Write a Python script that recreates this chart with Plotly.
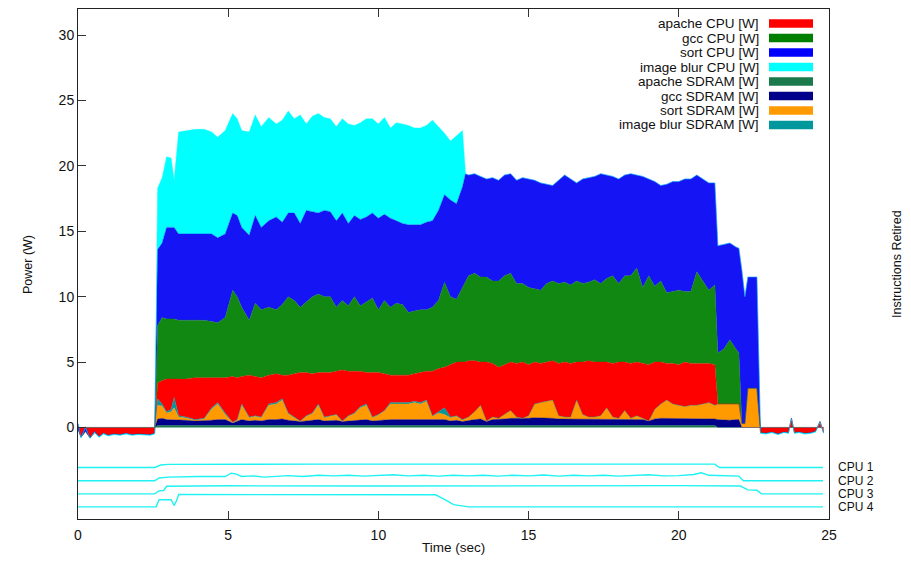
import plotly.graph_objects as go

# ---------------- data ----------------
time = ([0.0, 0.1, 0.25, 0.4, 0.55, 0.7, 0.85, 1.0, 1.2, 1.4, 1.6, 1.8, 2.0, 2.2, 2.4, 2.55]
        + [2.65, 2.8, 2.95, 3.1, 3.2, 3.35, 3.6, 3.9, 4.2, 4.45, 4.65, 4.9, 5.15, 5.3, 5.45, 5.7, 5.9,
           6.1, 6.35, 6.6, 6.8, 7.0, 7.2, 7.4, 7.6, 7.8, 8.0, 8.2, 8.4, 8.6, 8.8, 9.0, 9.2, 9.4, 9.6,
           9.8, 10.0, 10.2, 10.4, 10.6, 10.8, 11.0, 11.2, 11.4, 11.6, 11.8, 12.0, 12.2, 12.4, 12.6, 12.8]
        + [12.9, 13.0, 13.2, 13.4, 13.6, 13.8, 14.0, 14.2, 14.4, 14.6, 14.8, 15.0, 15.2, 15.4, 15.6,
           15.8, 16.0, 16.2, 16.4, 16.6, 16.8, 17.0, 17.2, 17.4, 17.6, 17.8, 18.0, 18.2, 18.4, 18.6,
           18.8, 19.0, 19.2, 19.4, 19.6, 19.8, 20.0, 20.2, 20.4, 20.6, 20.8, 21.0, 21.2]
        + [21.3, 21.5, 21.7, 21.9, 22.0, 22.1, 22.2, 22.3, 22.45, 22.6]
        + [22.72, 22.9, 23.1, 23.3, 23.5, 23.65, 23.75, 23.85, 24.0, 24.2, 24.4, 24.55, 24.7, 24.82])

apache_sdram = [0.0] * 16 + [0.15] * 51 + [0.15] * 43 + [0.0] * 10 + [0.0] * 14

gcc_sdram = ([0.0] * 16
             + [.5, .55, .45, .45, .45, .45, .4, .35, .35, .4, .45, .45, .2, .3, .45, .35, .4, .35, .45, .45,
                .5, .4, .35, .3, .35, .4, .45, .35, .4, .4, .3, .35, .4, .45, .45, .35, .4, .4, .45, .45,
                .45, .45, .45, .45, .45, .4, .45, .45, .35, .4, .3]
             + [.35, .4, .45, .5, .3, .45, .45, .5, .55, .55, .5, .55, .6, .6, .55, .55, .5, .5, .45, .5,
                .5, .45, .5, .5, .5, .45, .45, .5, .45, .5, .45, .35, .5, .55, .55, .5, .5, .5, .5, .55,
                .55, .55, .5]
             + [.6, .55, .55, .6, .6, 0, 0, 0, 0, 0]
             + [0.0] * 14)

sort_sdram = ([0.0] * 16
              + [1.05, .95, .5, .6, .9, .2, .17, .05, .15, .87, 1.2, .4, .02, .1, 1.1, .25, .3, .25, 1.1, 1.2,
                 1.45, .5, .25, 0, .35, .5, 1.1, .25, .3, .4, 0, .35, .5, .9, 1.1, .25, .4, .7, 1.2, 1.2,
                 1.2, 1.2, 1.3, 1.2, 1.4, .3, .5, .4, .25, .3, .1]
              + [.2, .25, .6, 1.05, .05, .2, .1, .35, .6, .1, .05, .2, 1.05, 1.15, 1.3, 1.4, .25, .15, .2, 1.45,
                 .35, .2, .15, .25, .85, .2, .1, .65, .1, .25, .1, 0, .75, 1.1, 1.4, 1.15, 1.05, .95, 1.05, 1.0,
                 1.1, 1.2, 1.05]
              + [1.2, 1.25, 1.25, 1.2, 1.2, .3, .3, 3.0, 3.0, 3.0]
              + [0.0] * 14)

blur_sdram = ([0.0] * 16
              + [.5, .15, .1, .2, .8, .1, .08, .05, .05, .08, .1, .1, .03, .05, .1, .05, .05, .05, .1, .1,
                 .1, .05, .05, .05, .05, .05, .1, .05, .05, .05, .05, .05, .05, .1, .1, .05, .05, .05, .1, .1,
                 .1, .1, .1, .1, .1, .05, .1, .5, .05, .05, .05]
              + [0.0] * 43 + [0.0] * 10 + [0.0] * 14)

apache_cpu = ([-0.15, -0.75, -0.3, -0.8, -0.4, -0.7, -0.45, -0.6, -0.5, -0.55, -0.45, -0.55, -0.5, -0.5, -0.55, -0.45]
              + [1.2, 1.8, 2.5, 2.3, 1.4, 2.8, 2.9, 3.2, 3.1, 2.3, 1.9, 2.7, 3.5, 3.2, 2.1, 3.2, 3.0, 3.0, 2.2, 2.2,
                 1.8, 2.9, 3.3, 3.7, 3.3, 3.0, 2.4, 3.4, 3.3, 3.3, 3.9, 3.4, 3.2, 2.7, 2.4, 3.4, 3.2, 2.8, 2.1, 2.1,
                 2.1, 2.1, 2.1, 2.3, 2.2, 3.4, 3.3, 3.1, 4.0, 4.1, 4.4]
              + [4.3, 4.3, 3.9, 3.3, 4.5, 4.1, 3.9, 3.8, 3.7, 4.1, 4.3, 3.9, 3.2, 3.0, 3.0, 3.0, 4.0, 4.2, 4.1, 2.9,
                 4.0, 4.3, 4.2, 4.1, 3.5, 4.1, 4.3, 3.7, 4.2, 4.1, 4.2, 4.3, 3.6, 3.2, 2.8, 3.1, 3.1, 3.4, 3.2, 3.2,
                 3.1, 3.0, 3.1]
              + [0.0] * 10
              + [-0.4, -0.45, -0.35, -0.5, -0.35, -0.4, 0.7, -0.4, -0.35, -0.45, -0.4, -0.3, 0.45, -0.4])

gcc_cpu = ([0.0] * 16
           + [4.4, 4.8, 4.6, 4.6, 4.6, 4.5, 4.5, 4.4, 4.4, 4.3, 4.2, 4.6, 6.6, 6.2, 5.3, 4.2, 5.6, 5.2, 5.2, 4.9,
              5.4, 6.0, 5.6, 5.0, 5.4, 5.9, 6.0, 5.8, 5.8, 4.9, 5.3, 5.0, 5.7, 5.0, 5.4, 5.7, 4.8, 5.6, 5.2, 5.5,
              5.4, 4.8, 4.8, 4.8, 4.7, 4.9, 5.2, 6.5, 5.2, 4.8, 5.7]
           + [6.2, 6.5, 6.7, 6.5, 6.5, 6.3, 6.6, 6.8, 6.8, 6.1, 6.0, 5.9, 5.6, 5.6, 6.0, 6.1, 6.1, 6.1, 6.0, 6.2,
              6.0, 6.0, 6.3, 6.0, 6.4, 6.7, 6.0, 6.6, 6.7, 7.2, 5.8, 6.8, 5.8, 6.2, 5.4, 5.5, 5.7, 5.4, 5.5, 7.0,
              6.3, 5.6, 6.1]
           + [3.9, 4.2, 4.9, 4.2, 3.9, 0, 0, 0, 0, 0]
           + [0.0] * 14)

sort_cpu = ([0.45, 0, 0.35, 0, 0.1, 0, 0, 0, 0, 0, 0, 0, 0, 0, 0, 0]
            + [5.8, 5.7, 7.0, 7.0, 7.0, 6.6, 6.6, 6.6, 6.6, 6.7, 6.5, 6.4, 5.9, 6.2, 6.1, 6.5, 6.7, 6.3, 6.6, 7.1,
               6.3, 6.4, 6.7, 6.4, 7.0, 6.5, 6.2, 6.6, 6.5, 6.6, 6.7, 6.3, 6.2, 6.6, 6.5, 6.5, 7.0, 6.6, 6.8, 6.3,
               6.2, 6.7, 6.6, 6.5, 6.7, 6.6, 6.9, 6.7, 7.4, 7.3, 7.7]
            + [8.2, 7.7, 7.6, 7.7, 7.5, 7.9, 7.7, 7.7, 7.6, 7.9, 8.1, 8.3, 8.3, 8.2, 7.6, 7.3, 7.9, 8.2, 8.1, 7.5,
               8.0, 8.0, 7.9, 8.4, 7.9, 7.6, 8.0, 7.7, 7.8, 7.1, 8.5, 7.4, 8.0, 7.3, 8.3, 8.4, 8.3, 8.6, 8.6, 7.4,
               7.8, 8.2, 7.8]
            + [8.2, 8.0, 7.4, 7.8, 8.0, 11.7, 9.7, 8.5, 8.5, 8.5]
            + [0.0] * 14)

blur_cpu = ([-0.06] * 16
            + [4.7, 5.0, 5.4, 5.3, 3.6, 7.8, 7.9, 8.0, 8.0, 7.8, 7.7, 7.9, 7.6, 7.4, 7.4, 7.9, 7.7, 7.7, 7.9, 7.1,
               7.8, 7.8, 7.2, 8.3, 6.6, 7.3, 7.6, 7.1, 7.1, 7.2, 7.2, 7.6, 6.9, 7.4, 7.5, 7.2, 7.2, 7.4, 6.9, 7.5,
               7.6, 7.6, 7.4, 7.4, 7.4, 7.7, 6.4, 4.7, 4.5, 5.2, 4.3]
            + [0.0] * 43 + [0.0] * 10
            + [-0.06] * 14)

# Instructions retired per CPU (drawn as offset traces below the power stack)
cpu_labels = ["CPU 1", "CPU 2", "CPU 3", "CPU 4"]
cpu1_t = [0, 2.55, 2.75, 3.0, 8.0, 12.0, 16.0, 21.2, 21.35, 24.8]
cpu1_v = [-3.06, -3.06, -2.87, -2.82, -2.80, -2.80, -2.80, -2.80, -3.06, -3.06]
cpu2_t = [0, 2.55, 2.7, 3.0, 4.0, 4.9, 5.1, 5.25, 5.45, 5.8, 6.2, 6.6, 7.0, 7.5, 8.0, 8.5, 9.0, 9.5,
          10.0, 10.5, 11.0, 11.5, 12.0, 12.5, 13.0, 13.5, 14.0, 14.5, 15.0, 15.5, 16.0, 16.5, 17.0,
          17.5, 18.0, 18.5, 19.0, 19.5, 20.0, 20.5, 20.75, 21.0, 21.5, 22.0, 22.15, 24.8]
cpu2_v = [-4.08, -4.08, -3.86, -3.8, -3.75, -3.75, -3.5, -3.55, -3.75, -3.7, -3.8, -3.72, -3.68, -3.75,
          -3.65, -3.7, -3.65, -3.72, -3.68, -3.62, -3.7, -3.66, -3.72, -3.65, -3.7, -3.66, -3.72, -3.65,
          -3.7, -3.64, -3.72, -3.66, -3.7, -3.66, -3.72, -3.65, -3.62, -3.7, -3.68, -3.6, -3.47, -3.66,
          -3.7, -3.72, -4.08, -4.08]
cpu3_t = [0, 2.55, 2.7, 2.85, 2.95, 5, 10, 15, 20, 22.05, 22.3, 22.6, 22.75, 24.8]
cpu3_v = [-5.08, -5.08, -4.85, -4.82, -4.5, -4.46, -4.48, -4.45, -4.45, -4.48, -4.77, -4.8, -5.08, -5.08]
cpu4_t = [0, 2.6, 2.7, 3.1, 3.2, 3.28, 3.35, 6, 9, 11.9, 12.2, 12.5, 13.0, 24.8]
cpu4_v = [-6.07, -6.07, -5.53, -5.53, -5.97, -5.6, -5.13, -5.13, -5.15, -5.15, -5.5, -5.9, -6.07, -6.07]

x_ticks = [0, 5, 10, 15, 20, 25]
y_ticks = [0, 5, 10, 15, 20, 25, 30]

# ---------------- figure ----------------
FONT = "Liberation Sans, Arial, Helvetica, sans-serif"
fig = go.Figure()

stack = [
    ("apache SDRAM [W]", apache_sdram, "#1b7a4b"),
    ("gcc SDRAM [W]", gcc_sdram, "#00008b"),
    ("sort SDRAM [W]", sort_sdram, "#ff9a00"),
    ("image blur SDRAM [W]", blur_sdram, "#00989c"),
    ("apache CPU [W]", apache_cpu, "#ff0000"),
    ("gcc CPU [W]", gcc_cpu, "#118811"),
    ("sort CPU [W]", sort_cpu, "#1414f4"),
    ("image blur CPU [W]", blur_cpu, "#00ffff"),
]
for name, vals, col in stack:
    fig.add_trace(go.Scatter(x=time, y=vals, name=name, mode="lines", stackgroup="power",
                             line=dict(width=0.4, color=col), fillcolor=col, showlegend=False))

cpu_series = [(cpu1_t, cpu1_v), (cpu2_t, cpu2_v), (cpu3_t, cpu3_v), (cpu4_t, cpu4_v)]
for label, (t, v) in zip(cpu_labels, cpu_series):
    fig.add_trace(go.Scatter(x=t, y=v, name=label, mode="lines",
                             line=dict(color="#1ff2f2", width=1.4), showlegend=False))
    fig.add_annotation(x=1, xref="paper", y=v[0], yref="y", text=label, showarrow=False,
                       xanchor="left", yanchor="middle", xshift=8, borderpad=0,
                       font=dict(family=FONT, size=12, color="#111"))

# plot area: page x 78..829, page y 9..519 (the page body adds an 8px offset)
PH = 510.0
TOP = 9.0


def py(page_y):
    return 1 - (page_y - TOP) / PH


def px(page_x):
    return (page_x - 78) / 751.0


# gnuplot-style key: right-aligned labels with colour swatches to the right
legend_order = ["apache CPU [W]", "gcc CPU [W]", "sort CPU [W]", "image blur CPU [W]",
                "apache SDRAM [W]", "gcc SDRAM [W]", "sort SDRAM [W]", "image blur SDRAM [W]"]
colors = {n: c for n, _, c in stack}
colors["gcc CPU [W]"] = "#008000"
colors["sort CPU [W]"] = "#0000ff"
for i, name in enumerate(legend_order):
    yrow = 23.5 + 14.5 * i
    fig.add_annotation(x=px(760), xref="paper", y=py(yrow), yref="paper", text=name, showarrow=False,
                       xanchor="right", yanchor="middle", borderpad=0,
                       font=dict(family=FONT, size=13.5, color="#111"))
    fig.add_shape(type="rect", xref="paper", yref="paper", x0=px(769), x1=px(813),
                  y0=py(yrow + 4.2), y1=py(yrow - 4.2), fillcolor=colors[name], line=dict(width=0))

fig.add_annotation(x=px(28), xref="paper", y=py(264), yref="paper", text="Power (W)", textangle=-90,
                   showarrow=False, xanchor="center", yanchor="middle",
                   font=dict(family=FONT, size=12.5, color="#111"))
fig.add_annotation(x=px(897), xref="paper", y=py(264), yref="paper", text="Instructions Retired",
                   textangle=-90, showarrow=False, xanchor="center", yanchor="middle",
                   font=dict(family=FONT, size=12.5, color="#111"))
fig.add_annotation(x=px(453), xref="paper", y=py(547), yref="paper", text="Time (sec)",
                   showarrow=False, xanchor="center", yanchor="middle", borderpad=0,
                   font=dict(family=FONT, size=13.5, color="#111"))

fig.update_layout(
    width=895, height=548, autosize=False,
    margin=dict(l=70, r=74, t=1, b=37),
    paper_bgcolor="white", plot_bgcolor="white",
    font=dict(family=FONT, size=14, color="#111"),
    showlegend=False,
    xaxis=dict(range=[0, 25], tickvals=x_ticks, ticks="inside", ticklen=8, tickcolor="#333",
               showline=True, linecolor="#222", linewidth=1, mirror="ticks", ticklabelstandoff=3,
               showgrid=False, zeroline=False, tickfont=dict(size=14)),
    yaxis=dict(range=[-7, 32], tickvals=y_ticks, ticks="inside", ticklen=8, tickcolor="#333",
               showline=True, linecolor="#222", linewidth=1, mirror=True,
               showgrid=False, zeroline=False, tickfont=dict(size=14)),
)

fig.write_html("out.html")
